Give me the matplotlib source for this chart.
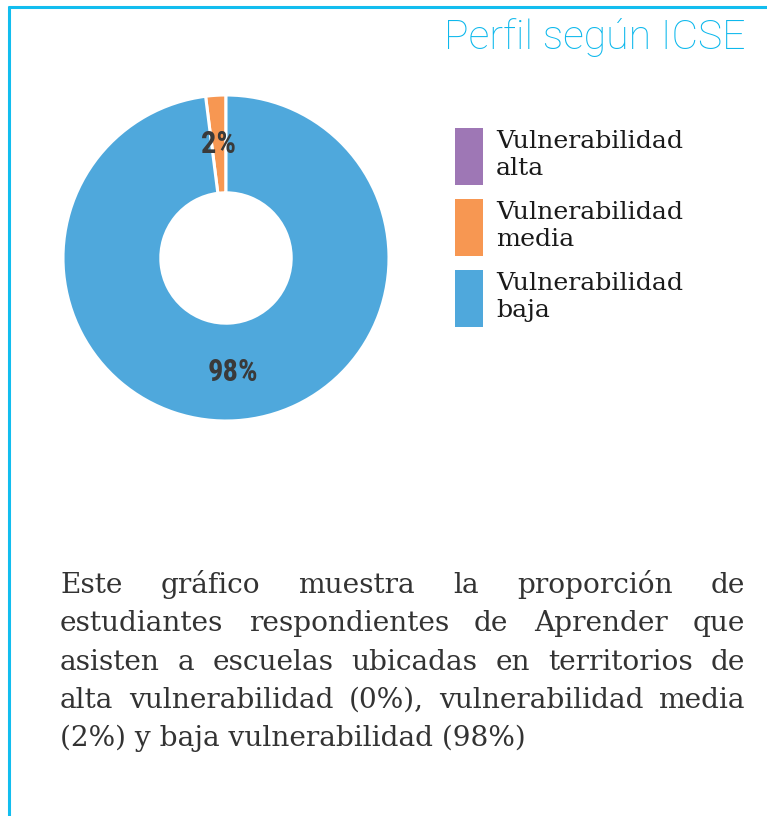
import matplotlib
matplotlib.use("Agg")
import matplotlib.pyplot as plt
from matplotlib.lines import Line2D
from matplotlib import font_manager

# ---- data ----
categories = ["Vulnerabilidad\nalta", "Vulnerabilidad\nmedia", "Vulnerabilidad\nbaja"]
values = [0, 2, 98]
colors = ["#9E77B5", "#F79752", "#4FA8DC"]
title = "Perfil según ICSE"
body_lines = [
    "Este gráfico muestra la proporción de",
    "estudiantes respondientes de Aprender que",
    "asisten a escuelas ubicadas en territorios de",
    "alta vulnerabilidad (0%), vulnerabilidad media",
    "(2%) y baja vulnerabilidad (98%)",
]

available = {f.name for f in font_manager.fontManager.ttflist}

def pick(*names):
    for n in names:
        if n in available:
            return n
    return "DejaVu Sans"

slab = pick("Roboto Slab", "DejaVu Serif")
cond = pick("Roboto Condensed", "DejaVu Sans")

W, H = 767, 816
fig = plt.figure(figsize=(W / 100, H / 100), dpi=100)

def fx(px):
    return px / W

def fy(py):
    return 1 - py / H

# border (top and left)
border_color = "#12BDEF"
fig.add_artist(Line2D([fx(8), 1.0], [fy(7), fy(7)], color=border_color, lw=2.2,
                      solid_capstyle="butt", transform=fig.transFigure))
fig.add_artist(Line2D([fx(8.5), fx(8.5)], [fy(6), 0.0], color=border_color, lw=2.2,
                      solid_capstyle="butt", transform=fig.transFigure))

# donut
cx, cy, r = 226, 258, 163
ax = fig.add_axes([fx(cx - r), fy(cy + r), (2 * r) / W, (2 * r) / H])
wedges, texts, autotexts = ax.pie(
    values, colors=colors, startangle=90, counterclock=True,
    radius=1.0, autopct=lambda p: f"{p:.0f}%" if p >= 1 else "",
    pctdistance=0.7,
    wedgeprops=dict(width=0.6, edgecolor="white", linewidth=2.2),
    textprops=dict(color="#3A3A3A", fontsize=22 if cond != "DejaVu Sans" else 17,
                   fontweight="bold", fontstretch="condensed", family=cond),
)
for t in autotexts:
    t.set_va("center")
ax.set_xlim(-1, 1)
ax.set_ylim(-1, 1)
ax.set_aspect("equal")
ax.axis("off")

# legend
fs_leg = 18.2
fpx = fs_leg * 100 / 72
hh = (57 / fpx - 0.245) / 0.65
leg = fig.legend(
    wedges, categories, loc="upper left",
    bbox_to_anchor=(fx(455), fy(128)), bbox_transform=fig.transFigure,
    frameon=False, borderpad=0, borderaxespad=0,
    handlelength=28 / fpx, handleheight=hh,
    handletextpad=13 / fpx, labelspacing=14 / fpx,
    prop=dict(family=slab, size=fs_leg),
)
for t in leg.get_texts():
    t.set_color("#1a1a1a")
    t.set_linespacing(1.2)
for h in leg.legend_handles:
    h.set_edgecolor("none")

# title
fig.text(fx(745), fy(49), title, ha="right", va="baseline", color="#0DB8EC",
         fontsize=29.5, family="Roboto", fontweight="light")

# justified body text
fig.canvas.draw()
renderer = fig.canvas.get_renderer()
left, right = 60, 745
base0, step = 593, 38.3
body_font = slab
probe = fig.text(0, 0, body_lines[-1], fontsize=20, family=body_font)
wprobe = probe.get_window_extent(renderer).width
probe.remove()
body_size = 20 * 465 / wprobe
body_kw = dict(fontsize=body_size, family=body_font, fontweight="light",
               color="#333333", va="baseline")
for i, line in enumerate(body_lines):
    yb = fy(base0 + i * step)
    words = line.split()
    if i == len(body_lines) - 1:
        fig.text(fx(left), yb, line, ha="left", **body_kw)
        continue
    arts = [fig.text(0, yb, w, ha="left", **body_kw) for w in words]
    widths = [a.get_window_extent(renderer).width for a in arts]
    gap = (right - left - sum(widths)) / (len(words) - 1)
    x = left
    for a, wd in zip(arts, widths):
        a.set_x(fx(x))
        x += wd + gap

fig.savefig("out.png", dpi=100)
